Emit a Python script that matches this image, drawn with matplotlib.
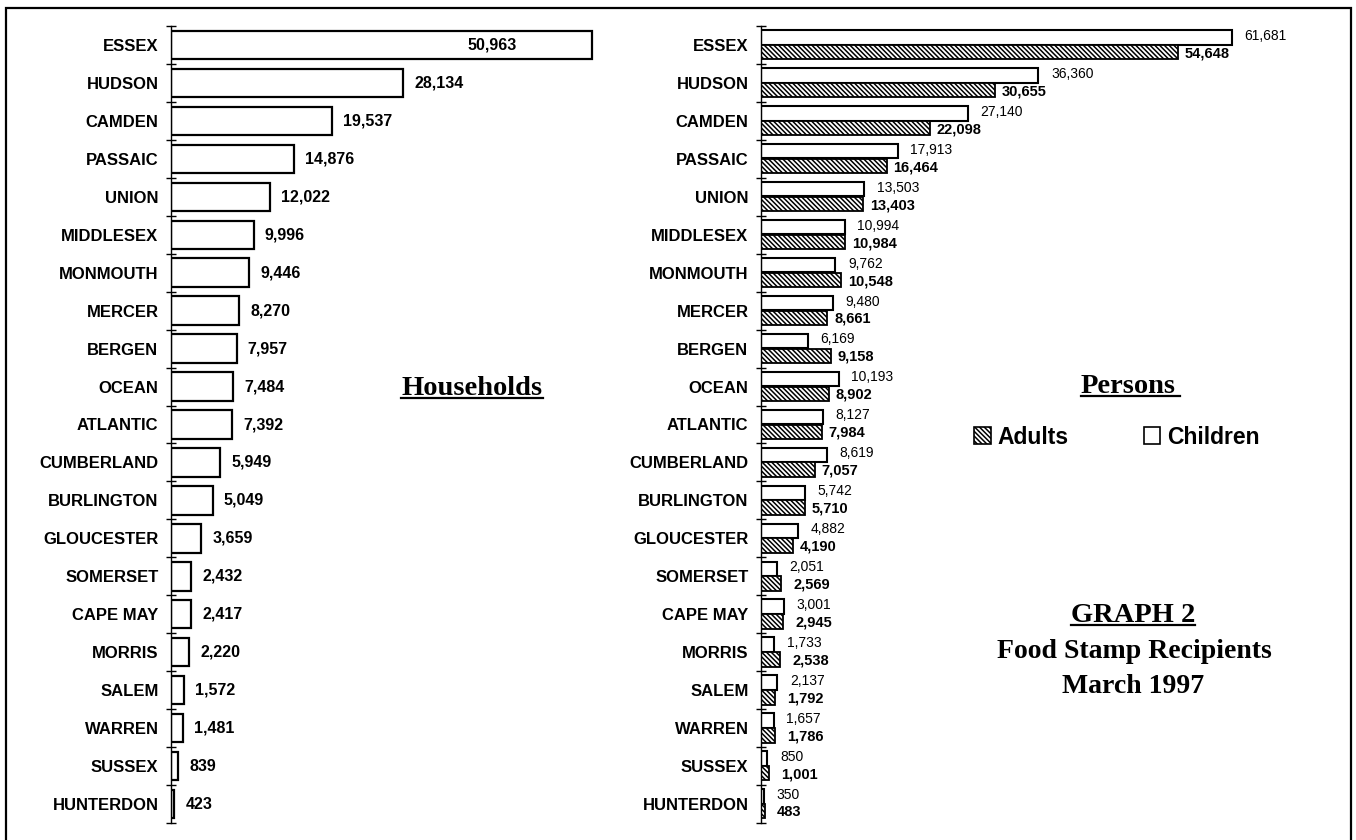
import matplotlib
matplotlib.use("Agg")
import matplotlib.pyplot as plt
from matplotlib.patches import Rectangle, Patch
from matplotlib.lines import Line2D
import numpy as np

counties = ["ESSEX", "HUDSON", "CAMDEN", "PASSAIC", "UNION", "MIDDLESEX", "MONMOUTH",
            "MERCER", "BERGEN", "OCEAN", "ATLANTIC", "CUMBERLAND", "BURLINGTON",
            "GLOUCESTER", "SOMERSET", "CAPE MAY", "MORRIS", "SALEM", "WARREN",
            "SUSSEX", "HUNTERDON"]
households = [50963, 28134, 19537, 14876, 12022, 9996, 9446, 8270, 7957, 7484, 7392,
              5949, 5049, 3659, 2432, 2417, 2220, 1572, 1481, 839, 423]
children = [61681, 36360, 27140, 17913, 13503, 10994, 9762, 9480, 6169, 10193, 8127,
            8619, 5742, 4882, 2051, 3001, 1733, 2137, 1657, 850, 350]
adults = [54648, 30655, 22098, 16464, 13403, 10984, 10548, 8661, 9158, 8902, 7984,
          7057, 5710, 4190, 2569, 2945, 2538, 1792, 1786, 1001, 483]

W, H = 1356, 840
HATCH = "\\" * 7
plt.rcParams['hatch.linewidth'] = 1.1
fig = plt.figure(figsize=(W / 100, H / 100), dpi=100)
fig.patch.set_facecolor("white")

sans = "Liberation Sans"
serif = "Liberation Serif"

# outer border
fig.patches.append(Rectangle((6 / W, -0.02), (1351 - 6) / W, 1.02 - 8 / H,
                             transform=fig.transFigure, fill=False,
                             edgecolor="black", linewidth=1.6))

n = len(counties)
pos = np.arange(n)
bottom = 1 - 823 / H
height = 797 / H


def style_axis(ax):
    for s in ("top", "right", "bottom"):
        ax.spines[s].set_visible(False)
    ax.spines["left"].set_linewidth(1.0)
    ax.set_xticks([])
    ax.set_ylim(n - 0.5, -0.5)
    ax.set_yticks(np.arange(n + 1) - 0.5)
    ax.set_yticklabels([])
    ax.tick_params(axis="y", which="major", direction="inout", length=7, width=1.0)
    ax.set_yticks(pos, minor=True)
    ax.set_yticklabels(counties, minor=True, fontfamily=sans, fontweight="bold",
                       fontsize=12)
    ax.tick_params(axis="y", which="minor", length=0, pad=9)
    ax.patch.set_alpha(0)


# ---- Left: households
axL = fig.add_axes([171 / W, bottom, 60000 * 0.00826 / W, height])
axL.barh(pos, households, height=0.75, color="white", edgecolor="black", linewidth=1.6)
axL.set_xlim(0, 60000)
style_axis(axL)
for i, v in enumerate(households):
    if v > 45000:
        axL.annotate(f"{v:,}", (v, i), xytext=(-54, 0), textcoords="offset points",
                     ha="right", va="center", fontfamily=sans, fontweight="bold",
                     fontsize=11.5)
    else:
        axL.annotate(f"{v:,}", (v, i), xytext=(8, 0), textcoords="offset points",
                     ha="left", va="center", fontfamily=sans, fontweight="bold",
                     fontsize=11.5)

# ---- Right: persons
axR = fig.add_axes([761 / W, bottom, 76000 * 0.00763 / W, height])
axR.barh(pos - 0.2, children, height=0.38, color="white", edgecolor="black",
         linewidth=1.5, label="Children")
axR.barh(pos + 0.19, adults, height=0.38, color="white", edgecolor="black",
         linewidth=1.3, hatch=HATCH, label="Adults")
axR.set_xlim(0, 76000)
style_axis(axR)
for i, (c, a) in enumerate(zip(children, adults)):
    axR.annotate(f"{c:,}", (c, i - 0.24), xytext=(9, 0), textcoords="offset points",
                 ha="left", va="center", fontfamily=sans, fontsize=10)
    axR.annotate(f"{a:,}", (a, i + 0.22), xytext=(5 if a > 3000 else 9, 0),
                 textcoords="offset points", ha="left", va="center",
                 fontfamily=sans, fontweight="bold", fontsize=10.5)

# legend
h_ad = Patch(facecolor="white", edgecolor="black", hatch=HATCH, linewidth=1.2)
h_ch = Patch(facecolor="white", edgecolor="black", linewidth=1.2)
leg = fig.legend([h_ad, h_ch], ["Adults", "Children"], loc="center",
                 bbox_to_anchor=(1117 / W, 1 - 437 / H), ncol=2, frameon=False,
                 handlelength=0.7, handleheight=0.7, handletextpad=0.3,
                 columnspacing=3.3, prop={"family": sans, "weight": "bold", "size": 16.5})

# titles
def underlined(x, y_base, s, size, extra=0):
    t = fig.text(x / W, 1 - y_base / H, s, ha="center", va="baseline",
                 fontfamily=serif, fontweight="bold", fontsize=size)
    fig.canvas.draw()
    bb = t.get_window_extent(renderer=fig.canvas.get_renderer())
    ly = 1 - (y_base + 3) / H
    fig.add_artist(Line2D([bb.x0 / W, (bb.x1 + extra) / W], [ly, ly],
                          transform=fig.transFigure, color="black", linewidth=1.6))
    return t

underlined(472, 395, "Households", 20.5)
underlined(1128, 393, "Persons", 20.5, extra=4)
underlined(1133, 622, "GRAPH 2", 20.5)
fig.text(1134 / W, 1 - 658 / H, "Food Stamp Recipients", ha="center", va="baseline",
         fontfamily=serif, fontweight="bold", fontsize=20)
fig.text(1133 / W, 1 - 693 / H, "March 1997", ha="center", va="baseline",
         fontfamily=serif, fontweight="bold", fontsize=20)

fig.savefig("out.png", dpi=100, facecolor="white")
